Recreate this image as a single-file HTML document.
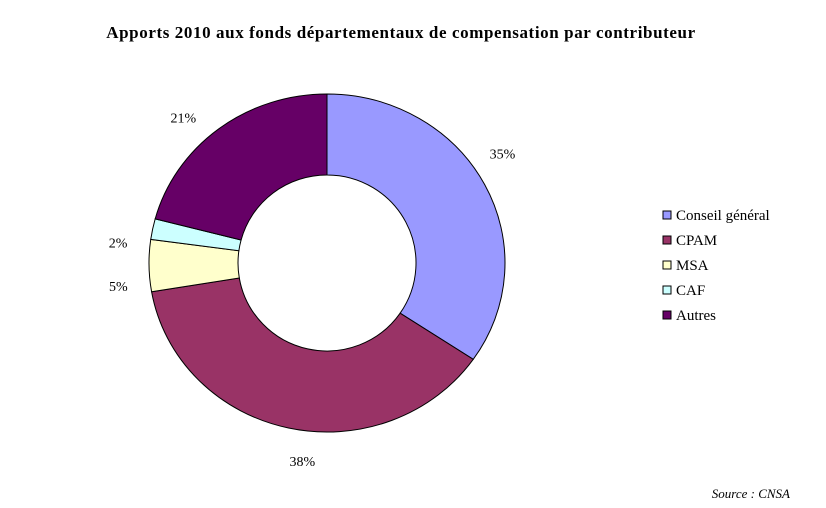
<!DOCTYPE html>
<html><head><meta charset="utf-8"><style>
body{margin:0;background:#fff;}
svg{display:block;font-family:"Liberation Serif",serif;}
</style></head><body>
<svg id="chart" width="826" height="508">
<text x="401" y="38" text-anchor="middle" font-size="17" font-weight="bold" letter-spacing="0.6">Apports 2010 aux fonds départementaux de compensation par contributeur</text>
<g id="slices"></g>
<g id="labels" font-size="14"></g>
<g id="legend" font-size="15"></g>
<text x="790" y="498" text-anchor="end" font-size="13" font-style="italic">Source : CNSA</text>
</svg>
<script>
const categories=["Conseil général","CPAM","MSA","CAF","Autres"];
const values=[35,38,5,2,21];
const colors=["#9999FF","#993366","#FFFFCC","#CCFFFF","#660066"];
const NS="http://www.w3.org/2000/svg";
const cx=327,cy=263,rx=178,ry=169,irx=89,iry=88;
const total=values.reduce((a,b)=>a+b,0);
const sl=document.getElementById('slices'),lb=document.getElementById('labels'),lg=document.getElementById('legend');
function pt(a,x,y){return [cx+x*Math.sin(a),cy-y*Math.cos(a)];}
let acc=0;
values.forEach((v,i)=>{
  const a0=acc/total*2*Math.PI;acc+=v;const a1=acc/total*2*Math.PI;
  const large=(a1-a0)>Math.PI?1:0;
  const p0=pt(a0,rx,ry),p1=pt(a1,rx,ry),q1=pt(a1,irx,iry),q0=pt(a0,irx,iry);
  const p=document.createElementNS(NS,'path');
  p.setAttribute('d',`M${p0}A${rx},${ry} 0 ${large} 1 ${p1}L${q1}A${irx},${iry} 0 ${large} 0 ${q0}Z`);
  p.setAttribute('fill',colors[i]);p.setAttribute('stroke','#000');p.setAttribute('stroke-width','1');
  
  
  sl.appendChild(p);
  const am=(a0+a1)/2-0.1,l=pt(am,rx*1.18,ry*1.18);
  const t=document.createElementNS(NS,'text');
  t.setAttribute('x',l[0]);t.setAttribute('y',l[1]+5);t.setAttribute('text-anchor','middle');
  t.textContent=v+'%';
  
  
  lb.appendChild(t);
  const y=215+i*25;
  const r=document.createElementNS(NS,'rect');
  r.setAttribute('x',663);r.setAttribute('y',y-4);r.setAttribute('width',8);r.setAttribute('height',8);
  r.setAttribute('fill',colors[i]);r.setAttribute('stroke','#000');
  
  
  lg.appendChild(r);
  const tt=document.createElementNS(NS,'text');
  tt.setAttribute('x',676);tt.setAttribute('y',y+5);tt.textContent=categories[i];
  
  
  lg.appendChild(tt);
});
</script>
</body></html>
